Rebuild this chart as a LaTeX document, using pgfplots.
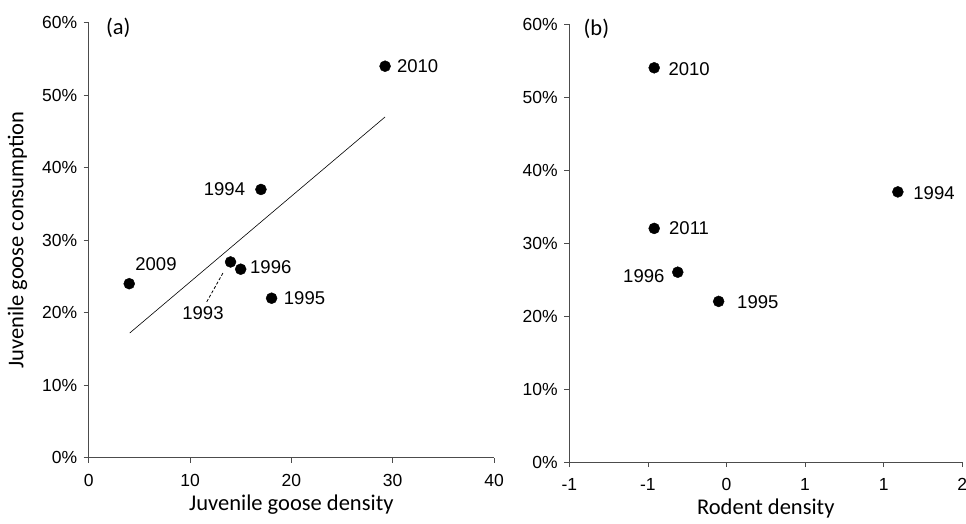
\documentclass[border=0pt]{standalone}
\usepackage{pgfplots}
\pgfplotsset{compat=1.18}
\usepackage{fontspec}
\setmainfont{Liberation Sans}
\newfontfamily\labelfont{Carlito}

% panel (a): juvenile goose density vs consumption
\pgfplotstableread{
x     y
29.25 54
17.0  37
4.0   24
14.0  27
15.0  26
18.05 22
}\gooseA
% panel (b): rodent density vs consumption
\pgfplotstableread{
x      y
-0.46  54
-0.46  32
-0.31  26
-0.05  22
1.09   37
}\rodentB

\begin{document}
\begin{tikzpicture}
\useasboundingbox (0pt,0pt) rectangle (966pt,523pt);
\tikzset{
  yr/.style={font=\fontsize{18.5}{20}\selectfont, inner sep=0pt},
  plab/.style={font=\labelfont\fontsize{22.5}{24}\selectfont, anchor=west, inner sep=0pt},
}
\pgfplotsset{
  panel/.style={
    scale only axis, anchor=south west, clip=false,
    axis lines*=left,
    axis line style={-, black!70, line width=0.7pt},
    tick style={black!70, line width=0.7pt},
    tick align=outside, major tick length=5pt,
    ymin=0, ymax=60, ytick={0,10,...,60},
    yticklabel={\pgfmathprintnumber{\tick}\%},
    /pgf/number format/assume math mode=true,
    tick label style={font=\fontsize{17.5}{19}\selectfont},
    yticklabel style={xshift=-3pt},
    xticklabel style={yshift=-8pt},
    label style={font=\labelfont\fontsize{22.5}{24}\selectfont},
    xlabel style={yshift=-1pt},
  },
  dots/.style={only marks, mark=*, mark size=5.5pt, black},
}

\begin{axis}[panel, at={(88.7pt,65.3pt)}, width=405.3pt, height=435pt,
  xmin=0, xmax=40, xtick={0,10,...,40},
  xlabel={Juvenile goose density}, ylabel={Juvenile goose consumption},
  ylabel style={yshift=8pt}]
  \addplot[dots] table {\gooseA};
  \addplot[black, line width=0.6pt] coordinates {(4.05,17.2) (29.25,47.0)};
  \addplot[black, dash pattern=on 3pt off 2pt, line width=0.8pt] coordinates {(11.65,21.5) (13.3,25.6)};
  \node[yr] at (axis cs:32.46,54.0) {2010};
  \node[yr] at (axis cs:13.4,37.1) {1994};
  \node[yr] at (axis cs:6.64,26.7) {2009};
  \node[yr] at (axis cs:17.97,26.3) {1996};
  \node[yr] at (axis cs:21.3,22.0) {1995};
  \node[yr] at (axis cs:11.28,19.95) {1993};
  \node[plab] at (axis cs:1.7,59.3) {(a)};
\end{axis}

\begin{axis}[panel, at={(569.3pt,61pt)}, width=393pt, height=438pt,
  xmin=-1, xmax=1.5, xtick={-1,-0.5,0,0.5,1,1.5},
  xticklabels={-1,-1,0,1,1,2},
  xlabel={Rodent density}]
  \addplot[dots] table {\rodentB};
  \node[yr] at (axis cs:-0.238,53.8) {2010};
  \node[yr] at (axis cs:1.32,36.9) {1994};
  \node[yr] at (axis cs:-0.238,32.05) {2011};
  \node[yr] at (axis cs:-0.526,25.4) {1996};
  \node[yr] at (axis cs:0.199,21.96) {1995};
  \node[plab] at (axis cs:-0.91,59.3) {(b)};
\end{axis}
\end{tikzpicture}
\end{document}
